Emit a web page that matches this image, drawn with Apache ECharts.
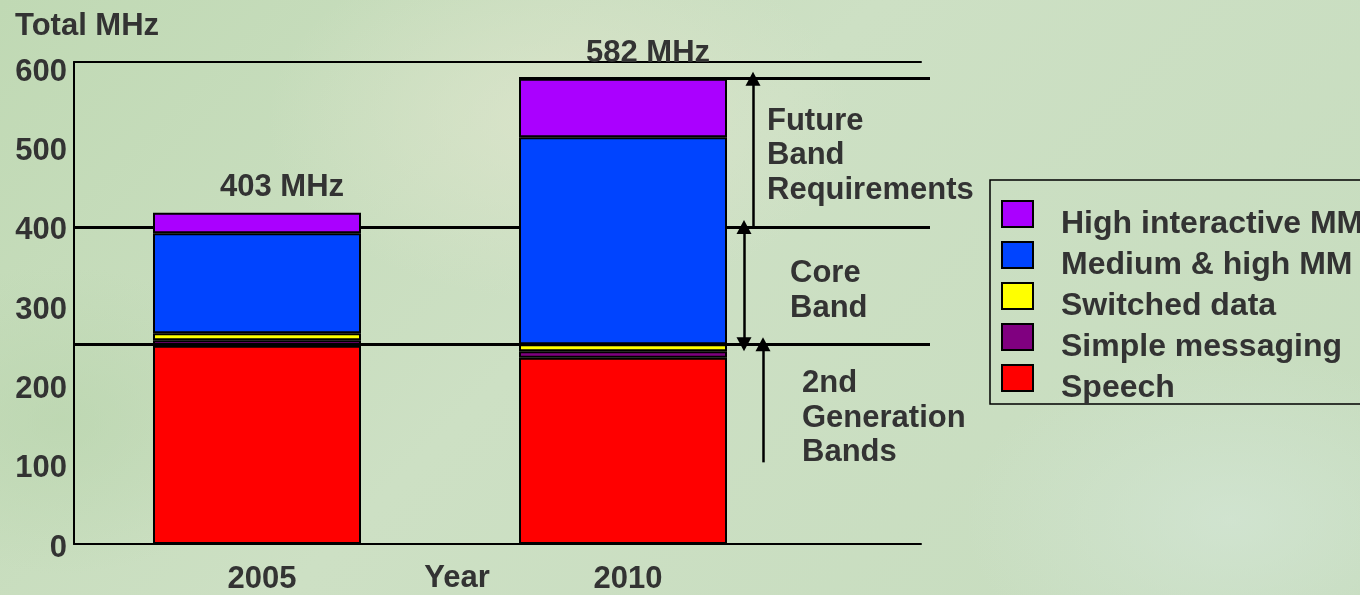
<!DOCTYPE html>
<html>
<head>
<meta charset="utf-8">
<script src="https://cdn.jsdelivr.net/npm/echarts@6/dist/echarts.min.js"></script>
<style>
  html, body {
    margin: 0;
    padding: 0;
  }
  body {
    width: 1360px;
    height: 595px;
    overflow: hidden;
    background-color: #c4dcbc;
    background-image:
      radial-gradient(ellipse 420px 260px at 560px 120px, rgba(224, 230, 206, 0.7), rgba(224, 230, 206, 0) 70%),
      radial-gradient(ellipse 380px 240px at 1230px 520px, rgba(212, 230, 214, 0.7), rgba(212, 230, 214, 0) 70%),
      radial-gradient(ellipse 300px 220px at 60px 420px, rgba(184, 212, 172, 0.6), rgba(184, 212, 172, 0) 70%),
      linear-gradient(135deg, #c0d9b4 0%, #cde0c4 45%, #c6dcbe 100%);
  }
  #main {
    width: 1360px;
    height: 595px;
  }
</style>
</head>
<body>
<div id="main"></div>
<script>
// 数据
const categories = ['2005', '2010']
const speech = [250, 235]
const simpleMessaging = [7, 8]
const switchedData = [9, 9]
const mediumHighMM = [126, 261]
const highInteractiveMM = [26, 74]
const totalLabels = ['403 MHz', '582 MHz']

// y 轴刻度
const yMin = 0
const yMax = 608
const yStep = 100

// 频段分界 (MHz)
const coreBandTop = 400
const secondGenTop = 252
const futureBandTop = 587
const secondGenArrowEnd = 103

const legendNames = ['High interactive MM', 'Medium & high MM', 'Switched data', 'Simple messaging', 'Speech']

const FONT = '"Liberation Sans", Arial, sans-serif'
const TEXT_COLOR = '#333333'

// 布局
const PLOT_LEFT = 74
const PLOT_TOP = 62
const PLOT_HEIGHT = 482
const BAR_GRID_WIDTH = 732
const FRAME_RIGHT = 921
const NOTE_RIGHT = 930
const BAR_WIDTH = 208
const bar2010Left = PLOT_LEFT + 1.5 * (BAR_GRID_WIDTH / 2) - BAR_WIDTH / 2

function barSeries(name, data, color) {
  return {
    name: name,
    type: 'bar',
    stack: 'mhz',
    xAxisIndex: 0,
    yAxisIndex: 0,
    barWidth: BAR_WIDTH,
    data: data,
    itemStyle: { color: color, borderColor: '#000', borderWidth: 2 },
    emphasis: { disabled: true }
  }
}

function noteText(text, x, y, align) {
  return {
    type: 'text',
    z: 100,
    style: {
      text: text,
      x: x,
      y: y,
      font: 'bold 31px ' + FONT,
      fill: TEXT_COLOR,
      textAlign: align || 'left',
      textVerticalAlign: 'middle'
    }
  }
}

const chart = echarts.init(document.getElementById('main'), null, { renderer: 'canvas' })

const topSeries = barSeries('High interactive MM', highInteractiveMM, '#aa00ff')
topSeries.label = {
  show: true,
  position: 'top',
  offset: [25, -5],
  formatter: p => totalLabels[p.dataIndex],
  fontFamily: FONT,
  fontWeight: 'bold',
  fontSize: 31,
  color: TEXT_COLOR
}

const option = {
  backgroundColor: 'transparent',
  animation: false,
  legend: {
    data: legendNames,
    orient: 'vertical',
    left: 990,
    top: 180,
    icon: 'rect',
    itemWidth: 31,
    itemHeight: 26,
    itemGap: -11,
    selectedMode: false,
    borderColor: '#000',
    borderWidth: 1.5,
    padding: [8, 12, 0, 11],
    formatter: name => '{t|' + name + '}',
    textStyle: {
      rich: {
        t: {
          fontFamily: FONT,
          fontWeight: 'bold',
          fontSize: 32,
          lineHeight: 31,
          color: TEXT_COLOR,
          padding: [20, 0, 0, 23]
        }
      }
    }
  },
  grid: [
    // 柱子
    { left: PLOT_LEFT, top: PLOT_TOP, width: BAR_GRID_WIDTH, height: PLOT_HEIGHT, containLabel: false, outerBoundsMode: 'none' },
    // 外框
    { left: PLOT_LEFT, top: PLOT_TOP, width: FRAME_RIGHT - PLOT_LEFT, height: PLOT_HEIGHT, containLabel: false, outerBoundsMode: 'none' },
    // 频段标注
    { left: PLOT_LEFT, top: PLOT_TOP, width: NOTE_RIGHT - PLOT_LEFT, height: PLOT_HEIGHT, containLabel: false, outerBoundsMode: 'none' }
  ],
  xAxis: [
    {
      type: 'category',
      gridIndex: 0,
      data: categories,
      axisLine: { show: false },
      axisTick: { show: false },
      axisLabel: {
        margin: 20,
        fontFamily: FONT,
        fontWeight: 'bold',
        fontSize: 31,
        color: TEXT_COLOR,
        padding: [0, 0, 0, 10]
      }
    },
    {
      type: 'value',
      gridIndex: 1,
      min: 0,
      max: 1,
      position: 'bottom',
      axisLine: { show: true, lineStyle: { color: '#000', width: 2 } },
      axisTick: { show: false },
      axisLabel: { show: false },
      splitLine: { show: false }
    },
    {
      type: 'value',
      gridIndex: 1,
      min: 0,
      max: 1,
      position: 'top',
      axisLine: { show: true, lineStyle: { color: '#000', width: 2 } },
      axisTick: { show: false },
      axisLabel: { show: false },
      splitLine: { show: false }
    },
    {
      type: 'value',
      gridIndex: 2,
      min: PLOT_LEFT,
      max: NOTE_RIGHT,
      show: false
    }
  ],
  yAxis: [
    {
      type: 'value',
      gridIndex: 0,
      min: yMin,
      max: yMax,
      interval: yStep,
      axisLine: { show: true, lineStyle: { color: '#000', width: 2 } },
      axisTick: { show: false },
      splitLine: { show: false },
      axisLabel: {
        showMaxLabel: false,
        margin: 7,
        fontFamily: FONT,
        fontWeight: 'bold',
        fontSize: 31,
        color: TEXT_COLOR,
        formatter: v => '{t|' + v + '}',
        rich: {
          t: {
            fontFamily: FONT,
            fontWeight: 'bold',
            fontSize: 31,
            lineHeight: 31,
            color: TEXT_COLOR,
            padding: [8, 0, 0, 0]
          }
        }
      }
    },
    { type: 'value', gridIndex: 1, min: yMin, max: yMax, show: false },
    { type: 'value', gridIndex: 2, min: yMin, max: yMax, show: false }
  ],
  series: [
    barSeries('Speech', speech, '#ff0000'),
    barSeries('Simple messaging', simpleMessaging, '#800080'),
    barSeries('Switched data', switchedData, '#ffff00'),
    barSeries('Medium & high MM', mediumHighMM, '#0044ff'),
    topSeries,
    // 400 线在柱子后面
    {
      type: 'line',
      xAxisIndex: 3,
      yAxisIndex: 2,
      data: [],
      markLine: {
        silent: true,
        z: 1,
        symbol: 'none',
        label: { show: false },
        lineStyle: { color: '#000', width: 3, type: 'solid' },
        data: [[{ coord: [PLOT_LEFT, coreBandTop] }, { coord: [NOTE_RIGHT, coreBandTop] }]]
      }
    },
    // 其余线与箭头
    {
      type: 'line',
      xAxisIndex: 3,
      yAxisIndex: 2,
      data: [],
      markLine: {
        silent: true,
        z: 6,
        symbol: 'none',
        symbolSize: [15, 14],
        label: { show: false },
        lineStyle: { color: '#000', width: 3, type: 'solid' },
        data: [
          [{ coord: [PLOT_LEFT, secondGenTop] }, { coord: [NOTE_RIGHT, secondGenTop] }],
          [{ coord: [bar2010Left, futureBandTop] }, { coord: [NOTE_RIGHT, futureBandTop] }],
          [
            { coord: [753, futureBandTop], symbol: 'triangle', lineStyle: { width: 2.5 } },
            { coord: [753, coreBandTop], symbol: 'none' }
          ],
          [
            { coord: [744, coreBandTop], symbol: 'triangle', lineStyle: { width: 2.5 } },
            { coord: [744, secondGenTop], symbol: 'triangle' }
          ],
          [
            { coord: [763, secondGenTop], symbol: 'triangle', lineStyle: { width: 2.5 } },
            { coord: [763, secondGenArrowEnd], symbol: 'none' }
          ]
        ]
      }
    }
  ],
  graphic: [
    noteText('Total MHz', 15, 26),
    noteText('Year', 457, 578, 'center'),
    noteText('Future', 767, 121),
    noteText('Band', 767, 155),
    noteText('Requirements', 767, 190),
    noteText('Core', 790, 273),
    noteText('Band', 790, 308),
    noteText('2nd', 802, 383),
    noteText('Generation', 802, 418),
    noteText('Bands', 802, 452)
  ]
}

chart.setOption(option)
</script>
</body>
</html>
